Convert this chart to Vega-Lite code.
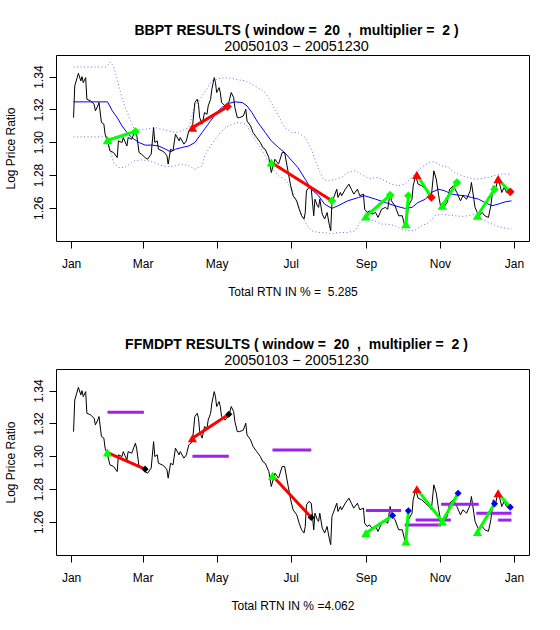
{
  "$schema": "https://vega.github.io/schema/vega-lite/v6.json",
  "padding": {"left": 3, "top": 23, "right": 5, "bottom": 5},
  "spacing": 39,
  "config": {
    "font": "Liberation Sans",
    "view": {"stroke": "black", "strokeWidth": 1},
    "axis": {"grid": false, "domain": false, "ticks": true, "tickColor": "black", "tickWidth": 1, "tickSize": 7, "labelFont": "Liberation Sans", "labelFontSize": 12, "labelColor": "black", "titleFont": "Liberation Sans", "titleFontSize": 12, "titleFontWeight": "normal", "titleColor": "black"},
    "title": {"font": "Liberation Sans", "fontSize": 14, "fontWeight": "bold", "color": "black", "subtitleFont": "Liberation Sans", "subtitleFontSize": 14.4, "subtitleColor": "black", "anchor": "middle", "offset": 2, "subtitlePadding": 1.8, "dx": 4}
  },
  "datasets": {
    "price": [
      {"date":"2005-01-03","v":1.3150},{"date":"2005-01-04","v":1.3343},{"date":"2005-01-07","v":1.3420},{"date":"2005-01-09","v":1.3374},{"date":"2005-01-10","v":1.3400},{"date":"2005-01-11","v":1.3363},{"date":"2005-01-13","v":1.3394},{"date":"2005-01-14","v":1.3262},{"date":"2005-01-17","v":1.3252},{"date":"2005-01-20","v":1.3231},{"date":"2005-01-21","v":1.3191},{"date":"2005-01-23","v":1.3221},{"date":"2005-01-24","v":1.3242},{"date":"2005-01-26","v":1.3120},{"date":"2005-01-28","v":1.3110},{"date":"2005-01-29","v":1.3049},{"date":"2005-01-31","v":1.3008},
      {"date":"2005-02-02","v":1.2947},{"date":"2005-02-05","v":1.2937},{"date":"2005-02-08","v":1.2906},{"date":"2005-02-09","v":1.3008},{"date":"2005-02-12","v":1.2998},{"date":"2005-02-13","v":1.3028},{"date":"2005-02-16","v":1.2977},{"date":"2005-02-17","v":1.3028},{"date":"2005-02-20","v":1.3018},{"date":"2005-02-23","v":1.3079},{"date":"2005-02-24","v":1.3049},{"date":"2005-02-26","v":1.2937},{"date":"2005-02-28","v":1.2927},
      {"date":"2005-03-03","v":1.2906},{"date":"2005-03-05","v":1.2896},{"date":"2005-03-08","v":1.2927},{"date":"2005-03-10","v":1.3089},{"date":"2005-03-11","v":1.2998},{"date":"2005-03-13","v":1.3008},{"date":"2005-03-14","v":1.2957},{"date":"2005-03-17","v":1.2947},{"date":"2005-03-19","v":1.2937},{"date":"2005-03-21","v":1.2917},{"date":"2005-03-22","v":1.2866},{"date":"2005-03-24","v":1.2957},{"date":"2005-03-26","v":1.2947},{"date":"2005-03-28","v":1.3049},{"date":"2005-03-31","v":1.3008},
      {"date":"2005-04-01","v":1.3028},{"date":"2005-04-04","v":1.2988},{"date":"2005-04-06","v":1.3008},{"date":"2005-04-08","v":1.3069},{"date":"2005-04-11","v":1.3089},{"date":"2005-04-13","v":1.3242},{"date":"2005-04-15","v":1.3262},{"date":"2005-04-16","v":1.3231},{"date":"2005-04-17","v":1.3150},{"date":"2005-04-19","v":1.3110},{"date":"2005-04-21","v":1.3181},{"date":"2005-04-23","v":1.3170},{"date":"2005-04-24","v":1.3221},{"date":"2005-04-26","v":1.3262},{"date":"2005-04-27","v":1.3323},{"date":"2005-04-29","v":1.3394},{"date":"2005-04-30","v":1.3363},
      {"date":"2005-05-01","v":1.3303},{"date":"2005-05-03","v":1.3333},{"date":"2005-05-04","v":1.3303},{"date":"2005-05-05","v":1.3242},{"date":"2005-05-08","v":1.3221},{"date":"2005-05-09","v":1.3231},{"date":"2005-05-11","v":1.3242},{"date":"2005-05-13","v":1.3303},{"date":"2005-05-15","v":1.3272},{"date":"2005-05-16","v":1.3211},{"date":"2005-05-18","v":1.3150},{"date":"2005-05-20","v":1.3150},{"date":"2005-05-23","v":1.3160},{"date":"2005-05-25","v":1.3201},{"date":"2005-05-26","v":1.3130},{"date":"2005-05-29","v":1.3099},{"date":"2005-05-31","v":1.3059},
      {"date":"2005-06-03","v":1.3028},{"date":"2005-06-06","v":1.2998},{"date":"2005-06-08","v":1.2967},{"date":"2005-06-10","v":1.2957},{"date":"2005-06-13","v":1.2906},{"date":"2005-06-15","v":1.2815},{"date":"2005-06-18","v":1.2896},{"date":"2005-06-21","v":1.2866},{"date":"2005-06-24","v":1.2937},{"date":"2005-06-26","v":1.2937},{"date":"2005-06-29","v":1.2815},
      {"date":"2005-07-01","v":1.2734},{"date":"2005-07-03","v":1.2673},{"date":"2005-07-06","v":1.2642},{"date":"2005-07-08","v":1.2591},{"date":"2005-07-10","v":1.2551},{"date":"2005-07-12","v":1.2531},{"date":"2005-07-13","v":1.2571},{"date":"2005-07-14","v":1.2703},{"date":"2005-07-16","v":1.2724},{"date":"2005-07-18","v":1.2713},{"date":"2005-07-20","v":1.2551},{"date":"2005-07-21","v":1.2652},{"date":"2005-07-23","v":1.2612},{"date":"2005-07-24","v":1.2602},{"date":"2005-07-25","v":1.2652},{"date":"2005-07-27","v":1.2561},{"date":"2005-07-29","v":1.2531},{"date":"2005-07-31","v":1.2571},
      {"date":"2005-08-02","v":1.2490},{"date":"2005-08-03","v":1.2460},{"date":"2005-08-04","v":1.2632},{"date":"2005-08-05","v":1.2652},{"date":"2005-08-08","v":1.2713},{"date":"2005-08-09","v":1.2663},{"date":"2005-08-11","v":1.2693},{"date":"2005-08-12","v":1.2673},{"date":"2005-08-15","v":1.2713},{"date":"2005-08-18","v":1.2744},{"date":"2005-08-20","v":1.2713},{"date":"2005-08-22","v":1.2683},{"date":"2005-08-25","v":1.2713},{"date":"2005-08-26","v":1.2693},{"date":"2005-08-27","v":1.2673},{"date":"2005-08-30","v":1.2683},{"date":"2005-08-31","v":1.2591},
      {"date":"2005-09-02","v":1.2571},{"date":"2005-09-04","v":1.2581},{"date":"2005-09-06","v":1.2561},{"date":"2005-09-09","v":1.2571},{"date":"2005-09-11","v":1.2541},{"date":"2005-09-14","v":1.2591},{"date":"2005-09-17","v":1.2602},{"date":"2005-09-19","v":1.2591},{"date":"2005-09-21","v":1.2693},{"date":"2005-09-22","v":1.2642},{"date":"2005-09-25","v":1.2612},{"date":"2005-09-28","v":1.2551},
      {"date":"2005-10-01","v":1.2551},{"date":"2005-10-03","v":1.2490},{"date":"2005-10-05","v":1.2531},{"date":"2005-10-06","v":1.2612},{"date":"2005-10-09","v":1.2652},{"date":"2005-10-10","v":1.2734},{"date":"2005-10-12","v":1.2795},{"date":"2005-10-14","v":1.2744},{"date":"2005-10-17","v":1.2734},{"date":"2005-10-20","v":1.2713},{"date":"2005-10-23","v":1.2693},{"date":"2005-10-25","v":1.2673},{"date":"2005-10-27","v":1.2825},{"date":"2005-10-29","v":1.2775},{"date":"2005-10-31","v":1.2673},
      {"date":"2005-11-02","v":1.2591},{"date":"2005-11-04","v":1.2602},{"date":"2005-11-07","v":1.2632},{"date":"2005-11-09","v":1.2713},{"date":"2005-11-12","v":1.2734},{"date":"2005-11-15","v":1.2693},{"date":"2005-11-18","v":1.2642},{"date":"2005-11-20","v":1.2673},{"date":"2005-11-23","v":1.2652},{"date":"2005-11-26","v":1.2703},{"date":"2005-11-27","v":1.2754},{"date":"2005-11-29","v":1.2652},{"date":"2005-11-30","v":1.2602},
      {"date":"2005-12-03","v":1.2551},{"date":"2005-12-06","v":1.2571},{"date":"2005-12-08","v":1.2551},{"date":"2005-12-11","v":1.2541},{"date":"2005-12-13","v":1.2612},{"date":"2005-12-15","v":1.2734},{"date":"2005-12-17","v":1.2713},{"date":"2005-12-19","v":1.2785},{"date":"2005-12-22","v":1.2693},{"date":"2005-12-24","v":1.2724},{"date":"2005-12-26","v":1.2693},{"date":"2005-12-28","v":1.2703},{"date":"2005-12-30","v":1.2693}
    ],
    "ma": [
      {"date":"2005-01-03","v":1.3246},{"date":"2005-01-31","v":1.3246},{"date":"2005-02-04","v":1.3191},{"date":"2005-02-08","v":1.3150},{"date":"2005-02-12","v":1.3099},{"date":"2005-02-16","v":1.3059},{"date":"2005-02-20","v":1.3028},{"date":"2005-02-26","v":1.2998},{"date":"2005-03-03","v":1.2982},{"date":"2005-03-09","v":1.2982},{"date":"2005-03-14","v":1.2977},{"date":"2005-03-20","v":1.2957},{"date":"2005-03-24","v":1.2941},{"date":"2005-03-28","v":1.2957},{"date":"2005-04-02","v":1.2967},{"date":"2005-04-08","v":1.2977},{"date":"2005-04-13","v":1.2998},{"date":"2005-04-19","v":1.3059},{"date":"2005-04-24","v":1.3110},{"date":"2005-04-30","v":1.3170},{"date":"2005-05-05","v":1.3211},{"date":"2005-05-11","v":1.3237},{"date":"2005-05-16","v":1.3246},{"date":"2005-05-22","v":1.3242},{"date":"2005-05-26","v":1.3221},{"date":"2005-05-30","v":1.3181},{"date":"2005-06-04","v":1.3120},{"date":"2005-06-10","v":1.3059},{"date":"2005-06-15","v":1.3008},{"date":"2005-06-21","v":1.2967},{"date":"2005-06-26","v":1.2937},{"date":"2005-07-02","v":1.2886},{"date":"2005-07-07","v":1.2845},{"date":"2005-07-13","v":1.2774},{"date":"2005-07-18","v":1.2713},{"date":"2005-07-24","v":1.2673},{"date":"2005-07-29","v":1.2622},{"date":"2005-08-04","v":1.2596},{"date":"2005-08-09","v":1.2612},{"date":"2005-08-17","v":1.2642},{"date":"2005-08-26","v":1.2663},{"date":"2005-08-31","v":1.2673},{"date":"2005-09-09","v":1.2652},{"date":"2005-09-17","v":1.2632},{"date":"2005-09-25","v":1.2612},{"date":"2005-10-03","v":1.2596},{"date":"2005-10-09","v":1.2602},{"date":"2005-10-14","v":1.2632},{"date":"2005-10-20","v":1.2652},{"date":"2005-10-25","v":1.2693},{"date":"2005-10-31","v":1.2713},{"date":"2005-11-05","v":1.2703},{"date":"2005-11-11","v":1.2683},{"date":"2005-11-16","v":1.2677},{"date":"2005-11-22","v":1.2673},{"date":"2005-11-27","v":1.2663},{"date":"2005-12-03","v":1.2652},{"date":"2005-12-08","v":1.2632},{"date":"2005-12-14","v":1.2612},{"date":"2005-12-19","v":1.2622},{"date":"2005-12-25","v":1.2636},{"date":"2005-12-30","v":1.2642}
    ],
    "upper": [
      {"date":"2005-01-03","v":1.3459},{"date":"2005-01-30","v":1.3459},{"date":"2005-02-02","v":1.3489},{"date":"2005-02-05","v":1.3465},{"date":"2005-02-08","v":1.3384},{"date":"2005-02-10","v":1.3323},{"date":"2005-02-14","v":1.3221},{"date":"2005-02-18","v":1.3150},{"date":"2005-02-22","v":1.3079},{"date":"2005-02-28","v":1.3075},{"date":"2005-03-06","v":1.3083},{"date":"2005-03-11","v":1.3089},{"date":"2005-03-17","v":1.3079},{"date":"2005-03-22","v":1.3069},{"date":"2005-03-28","v":1.3059},{"date":"2005-04-02","v":1.3069},{"date":"2005-04-08","v":1.3089},{"date":"2005-04-13","v":1.3221},{"date":"2005-04-17","v":1.3262},{"date":"2005-04-21","v":1.3303},{"date":"2005-04-27","v":1.3374},{"date":"2005-05-03","v":1.3388},{"date":"2005-05-08","v":1.3394},{"date":"2005-05-14","v":1.3388},{"date":"2005-05-19","v":1.3380},{"date":"2005-05-25","v":1.3374},{"date":"2005-05-30","v":1.3353},{"date":"2005-06-04","v":1.3333},{"date":"2005-06-10","v":1.3303},{"date":"2005-06-15","v":1.3242},{"date":"2005-06-21","v":1.3160},{"date":"2005-06-26","v":1.3089},{"date":"2005-07-02","v":1.3059},{"date":"2005-07-07","v":1.3059},{"date":"2005-07-13","v":1.3028},{"date":"2005-07-18","v":1.2957},{"date":"2005-07-24","v":1.2835},{"date":"2005-07-28","v":1.2774},{"date":"2005-08-01","v":1.2764},{"date":"2005-08-07","v":1.2774},{"date":"2005-08-12","v":1.2785},{"date":"2005-08-17","v":1.2815},{"date":"2005-08-23","v":1.2825},{"date":"2005-08-28","v":1.2805},{"date":"2005-09-03","v":1.2778},{"date":"2005-09-11","v":1.2785},{"date":"2005-09-17","v":1.2764},{"date":"2005-09-22","v":1.2744},{"date":"2005-09-28","v":1.2734},{"date":"2005-10-03","v":1.2744},{"date":"2005-10-10","v":1.2795},{"date":"2005-10-17","v":1.2846},{"date":"2005-10-23","v":1.2876},{"date":"2005-10-28","v":1.2880},{"date":"2005-11-02","v":1.2856},{"date":"2005-11-08","v":1.2846},{"date":"2005-11-13","v":1.2815},{"date":"2005-11-19","v":1.2795},{"date":"2005-11-24","v":1.2785},{"date":"2005-11-30","v":1.2774},{"date":"2005-12-05","v":1.2778},{"date":"2005-12-11","v":1.2785},{"date":"2005-12-17","v":1.2799},{"date":"2005-12-22","v":1.2805},{"date":"2005-12-30","v":1.2805}
    ],
    "lower": [
      {"date":"2005-01-03","v":1.3032},{"date":"2005-01-30","v":1.3032},{"date":"2005-02-02","v":1.2957},{"date":"2005-02-05","v":1.2876},{"date":"2005-02-09","v":1.2845},{"date":"2005-02-14","v":1.2845},{"date":"2005-02-18","v":1.2866},{"date":"2005-02-22","v":1.2886},{"date":"2005-02-28","v":1.2892},{"date":"2005-03-06","v":1.2886},{"date":"2005-03-11","v":1.2876},{"date":"2005-03-17","v":1.2856},{"date":"2005-03-22","v":1.2852},{"date":"2005-03-28","v":1.2856},{"date":"2005-04-02","v":1.2866},{"date":"2005-04-08","v":1.2856},{"date":"2005-04-13","v":1.2835},{"date":"2005-04-19","v":1.2856},{"date":"2005-04-21","v":1.2917},{"date":"2005-04-27","v":1.2988},{"date":"2005-05-03","v":1.3049},{"date":"2005-05-08","v":1.3089},{"date":"2005-05-14","v":1.3110},{"date":"2005-05-19","v":1.3120},{"date":"2005-05-25","v":1.3110},{"date":"2005-05-30","v":1.3049},{"date":"2005-06-04","v":1.2988},{"date":"2005-06-10","v":1.2917},{"date":"2005-06-15","v":1.2845},{"date":"2005-06-21","v":1.2795},{"date":"2005-06-26","v":1.2774},{"date":"2005-07-02","v":1.2713},{"date":"2005-07-07","v":1.2612},{"date":"2005-07-13","v":1.2510},{"date":"2005-07-18","v":1.2460},{"date":"2005-07-24","v":1.2449},{"date":"2005-07-29","v":1.2449},{"date":"2005-08-04","v":1.2439},{"date":"2005-08-09","v":1.2449},{"date":"2005-08-17","v":1.2449},{"date":"2005-08-23","v":1.2460},{"date":"2005-08-28","v":1.2520},{"date":"2005-09-03","v":1.2531},{"date":"2005-09-08","v":1.2520},{"date":"2005-09-14","v":1.2500},{"date":"2005-09-19","v":1.2500},{"date":"2005-09-25","v":1.2490},{"date":"2005-09-30","v":1.2470},{"date":"2005-10-06","v":1.2460},{"date":"2005-10-11","v":1.2460},{"date":"2005-10-17","v":1.2490},{"date":"2005-10-23","v":1.2510},{"date":"2005-10-28","v":1.2551},{"date":"2005-11-02","v":1.2561},{"date":"2005-11-08","v":1.2555},{"date":"2005-11-13","v":1.2551},{"date":"2005-11-19","v":1.2547},{"date":"2005-11-24","v":1.2551},{"date":"2005-11-30","v":1.2561},{"date":"2005-12-05","v":1.2531},{"date":"2005-12-11","v":1.2510},{"date":"2005-12-17","v":1.2490},{"date":"2005-12-22","v":1.2480},{"date":"2005-12-30","v":1.2470}
    ],
    "bbpt": [
      {"date":"2005-01-31","v":1.3012,"date2":"2005-02-23","v2":1.3065,"side":"long","result":"profit"},
      {"date":"2005-04-11","v":1.3089,"date2":"2005-05-10","v2":1.3217,"side":"short","result":"loss"},
      {"date":"2005-06-15","v":1.2876,"date2":"2005-08-04","v2":1.2642,"side":"long","result":"loss"},
      {"date":"2005-09-01","v":1.2547,"date2":"2005-09-21","v2":1.2677,"side":"long","result":"profit"},
      {"date":"2005-10-04","v":1.2500,"date2":"2005-10-06","v2":1.2673,"side":"long","result":"profit"},
      {"date":"2005-10-13","v":1.2801,"date2":"2005-10-25","v2":1.2663,"side":"short","result":"profit"},
      {"date":"2005-11-03","v":1.2612,"date2":"2005-11-15","v2":1.2754,"side":"long","result":"profit"},
      {"date":"2005-12-02","v":1.2551,"date2":"2005-12-16","v2":1.2713,"side":"long","result":"profit"},
      {"date":"2005-12-19","v":1.2774,"date2":"2005-12-29","v2":1.2697,"side":"short","result":"profit"}
    ],
    "ffmdpt": [
      {"date":"2005-01-31","v":1.3022,"date2":"2005-03-03","v2":1.2921,"side":"long","result":"loss","exit_kind":"stop"},
      {"date":"2005-04-11","v":1.3110,"date2":"2005-05-11","v2":1.3256,"side":"short","result":"loss","exit_kind":"stop"},
      {"date":"2005-06-16","v":1.2880,"date2":"2005-07-18","v2":1.2626,"side":"long","result":"loss","exit_kind":"stop"},
      {"date":"2005-09-01","v":1.2531,"date2":"2005-09-23","v2":1.2638,"side":"long","result":"profit","exit_kind":"target"},
      {"date":"2005-10-04","v":1.2480,"date2":"2005-10-06","v2":1.2667,"side":"long","result":"profit","exit_kind":"target"},
      {"date":"2005-10-13","v":1.2799,"date2":"2005-11-03","v2":1.2602,"side":"short","result":"profit","exit_kind":null},
      {"date":"2005-11-03","v":1.2602,"date2":"2005-11-16","v2":1.2774,"side":"long","result":"profit","exit_kind":"target"},
      {"date":"2005-12-02","v":1.2537,"date2":"2005-12-16","v2":1.2709,"side":"long","result":"profit","exit_kind":"target"},
      {"date":"2005-12-19","v":1.2774,"date2":"2005-12-29","v2":1.2689,"side":"short","result":"profit","exit_kind":"target"}
    ],
    "targets": [
      {"date":"2005-01-31","date2":"2005-03-02","v":1.3268},
      {"date":"2005-04-11","date2":"2005-05-11","v":1.3000},
      {"date":"2005-06-16","date2":"2005-07-18","v":1.3038},
      {"date":"2005-09-01","date2":"2005-09-30","v":1.2669},
      {"date":"2005-10-03","date2":"2005-11-02","v":1.2580},
      {"date":"2005-10-12","date2":"2005-11-10","v":1.2610},
      {"date":"2005-11-02","date2":"2005-12-03","v":1.2707},
      {"date":"2005-12-01","date2":"2005-12-30","v":1.2652},
      {"date":"2005-12-19","date2":"2005-12-30","v":1.2610}
    ]
  },
  "vconcat": [
    {
      "width": 473, "height": 186,
      "title": {"text": "BBPT RESULTS ( window = \u00a020 \u00a0, \u00a0multiplier = \u00a02 )", "subtitle": "20050103 \u2212 20051230"},
      "encoding": {
        "x": {"field": "date", "type": "temporal", "title": "Total RTN IN % = \u00a05.285", "scale": {"type": "utc", "domain": [{"year":2004,"month":12,"date":19,"hours":13,"utc":true},{"year":2006,"month":1,"date":13,"hours":11,"utc":true}]},
              "axis": {"values": [{"year":2005,"month":1,"date":1,"utc":true},{"year":2005,"month":3,"date":1,"utc":true},{"year":2005,"month":5,"date":1,"utc":true},{"year":2005,"month":7,"date":1,"utc":true},{"year":2005,"month":9,"date":1,"utc":true},{"year":2005,"month":11,"date":1,"utc":true},{"year":2006,"month":1,"date":1,"utc":true}], "labelExpr": "utcFormat(datum.value, '%b')", "labelPadding": 10, "titlePadding": 17, "labelFlush": false, "labelOverlap": false}},
        "y": {"field": "v", "type": "quantitative", "title": "Log Price Ratio", "scale": {"domain": [1.2397, 1.3532], "zero": false, "nice": false},
              "axis": {"values": [1.26, 1.28, 1.30, 1.32, 1.34], "format": ".2f", "labelAngle": 270, "labelAlign": "center", "labelBaseline": "alphabetic", "labelPadding": 7, "titlePadding": 14.5}}
      },
      "layer": [
        {"data": {"name": "upper"}, "mark": {"type": "line", "color": "#6b6bff", "strokeWidth": 1, "strokeDash": [1, 2.5]}},
        {"data": {"name": "lower"}, "mark": {"type": "line", "color": "#6b6bff", "strokeWidth": 1, "strokeDash": [1, 2.5]}},
        {"data": {"name": "ma"}, "mark": {"type": "line", "color": "#0000ff", "strokeWidth": 1}},
        {"data": {"name": "price"}, "mark": {"type": "line", "color": "black", "strokeWidth": 1}},
        {"data": {"name": "bbpt", "format": {"parse": {"date": "date", "date2": "date"}}}, "mark": {"type": "rule", "strokeWidth": 3, "strokeCap": "round"},
         "encoding": {"x2": {"field": "date2"}, "y2": {"field": "v2"},
                      "color": {"field": "result", "type": "nominal", "scale": {"domain": ["profit", "loss"], "range": ["#00ff00", "#ff0000"]}, "legend": null}}},
        {"data": {"name": "bbpt", "format": {"parse": {"date": "date", "date2": "date"}}}, "mark": {"type": "point", "shape": "diamond", "filled": true, "opacity": 1, "size": 75},
         "encoding": {
           "x": {"field": "date2", "type": "temporal", "title": "Total RTN IN % = \u00a05.285", "scale": {"type": "utc", "domain": [{"year":2004,"month":12,"date":19,"hours":13,"utc":true},{"year":2006,"month":1,"date":13,"hours":11,"utc":true}]},
                 "axis": {"values": [{"year":2005,"month":1,"date":1,"utc":true},{"year":2005,"month":3,"date":1,"utc":true},{"year":2005,"month":5,"date":1,"utc":true},{"year":2005,"month":7,"date":1,"utc":true},{"year":2005,"month":9,"date":1,"utc":true},{"year":2005,"month":11,"date":1,"utc":true},{"year":2006,"month":1,"date":1,"utc":true}], "labelExpr": "utcFormat(datum.value, '%b')", "labelPadding": 10, "titlePadding": 17, "labelFlush": false, "labelOverlap": false}},
           "y": {"field": "v2", "type": "quantitative", "title": "Log Price Ratio", "scale": {"domain": [1.2397, 1.3532], "zero": false, "nice": false},
                 "axis": {"values": [1.26, 1.28, 1.30, 1.32, 1.34], "format": ".2f", "labelAngle": 270, "labelAlign": "center", "labelBaseline": "alphabetic", "labelPadding": 7, "titlePadding": 14.5}},
           "color": {"field": "side", "type": "nominal", "scale": {"domain": ["long", "short"], "range": ["#00ff00", "#ff0000"]}, "legend": null}}},
        {"data": {"name": "bbpt", "format": {"parse": {"date": "date", "date2": "date"}}}, "mark": {"type": "point", "shape": "triangle-up", "filled": true, "opacity": 1, "size": 90},
         "encoding": {"color": {"field": "side", "type": "nominal", "scale": {"domain": ["long", "short"], "range": ["#00ff00", "#ff0000"]}, "legend": null}}}
      ],
      "resolve": {"scale": {"color": "independent"}}
    },
    {
      "width": 473, "height": 186,
      "title": {"text": "FFMDPT RESULTS ( window = \u00a020 \u00a0, \u00a0multiplier = \u00a02 )", "subtitle": "20050103 \u2212 20051230"},
      "encoding": {
        "x": {"field": "date", "type": "temporal", "title": "Total RTN IN % =4.062", "scale": {"type": "utc", "domain": [{"year":2004,"month":12,"date":19,"hours":13,"utc":true},{"year":2006,"month":1,"date":13,"hours":11,"utc":true}]},
              "axis": {"values": [{"year":2005,"month":1,"date":1,"utc":true},{"year":2005,"month":3,"date":1,"utc":true},{"year":2005,"month":5,"date":1,"utc":true},{"year":2005,"month":7,"date":1,"utc":true},{"year":2005,"month":9,"date":1,"utc":true},{"year":2005,"month":11,"date":1,"utc":true},{"year":2006,"month":1,"date":1,"utc":true}], "labelExpr": "utcFormat(datum.value, '%b')", "labelPadding": 10, "titlePadding": 17, "labelFlush": false, "labelOverlap": false}},
        "y": {"field": "v", "type": "quantitative", "title": "Log Price Ratio", "scale": {"domain": [1.2397, 1.3532], "zero": false, "nice": false},
              "axis": {"values": [1.26, 1.28, 1.30, 1.32, 1.34], "format": ".2f", "labelAngle": 270, "labelAlign": "center", "labelBaseline": "alphabetic", "labelPadding": 7, "titlePadding": 14.5}}
      },
      "layer": [
        {"data": {"name": "price"}, "mark": {"type": "line", "color": "black", "strokeWidth": 1}},
        {"data": {"name": "targets", "format": {"parse": {"date": "date", "date2": "date"}}}, "mark": {"type": "rule", "color": "#a020f0", "strokeWidth": 3},
         "encoding": {"x2": {"field": "date2"}}},
        {"data": {"name": "ffmdpt", "format": {"parse": {"date": "date", "date2": "date"}}}, "mark": {"type": "rule", "strokeWidth": 3, "strokeCap": "round"},
         "encoding": {"x2": {"field": "date2"}, "y2": {"field": "v2"},
                      "color": {"field": "result", "type": "nominal", "scale": {"domain": ["profit", "loss"], "range": ["#00ff00", "#ff0000"]}, "legend": null}}},
        {"data": {"name": "ffmdpt", "format": {"parse": {"date": "date", "date2": "date"}}}, "transform": [{"filter": {"field": "exit_kind", "oneOf": ["stop", "target"]}}],
         "mark": {"type": "point", "shape": "diamond", "filled": true, "opacity": 1, "size": 50},
         "encoding": {
           "x": {"field": "date2", "type": "temporal", "title": "Total RTN IN % =4.062", "scale": {"type": "utc", "domain": [{"year":2004,"month":12,"date":19,"hours":13,"utc":true},{"year":2006,"month":1,"date":13,"hours":11,"utc":true}]},
                 "axis": {"values": [{"year":2005,"month":1,"date":1,"utc":true},{"year":2005,"month":3,"date":1,"utc":true},{"year":2005,"month":5,"date":1,"utc":true},{"year":2005,"month":7,"date":1,"utc":true},{"year":2005,"month":9,"date":1,"utc":true},{"year":2005,"month":11,"date":1,"utc":true},{"year":2006,"month":1,"date":1,"utc":true}], "labelExpr": "utcFormat(datum.value, '%b')", "labelPadding": 10, "titlePadding": 17, "labelFlush": false, "labelOverlap": false}},
           "y": {"field": "v2", "type": "quantitative", "title": "Log Price Ratio", "scale": {"domain": [1.2397, 1.3532], "zero": false, "nice": false},
                 "axis": {"values": [1.26, 1.28, 1.30, 1.32, 1.34], "format": ".2f", "labelAngle": 270, "labelAlign": "center", "labelBaseline": "alphabetic", "labelPadding": 7, "titlePadding": 14.5}},
           "color": {"field": "exit_kind", "type": "nominal", "scale": {"domain": ["stop", "target"], "range": ["#000000", "#0000ff"]}, "legend": null}}},
        {"data": {"name": "ffmdpt", "format": {"parse": {"date": "date", "date2": "date"}}}, "mark": {"type": "point", "shape": "triangle-up", "filled": true, "opacity": 1, "size": 85},
         "encoding": {"color": {"field": "side", "type": "nominal", "scale": {"domain": ["long", "short"], "range": ["#00ff00", "#ff0000"]}, "legend": null}}}
      ],
      "resolve": {"scale": {"color": "independent"}}
    }
  ]
}
